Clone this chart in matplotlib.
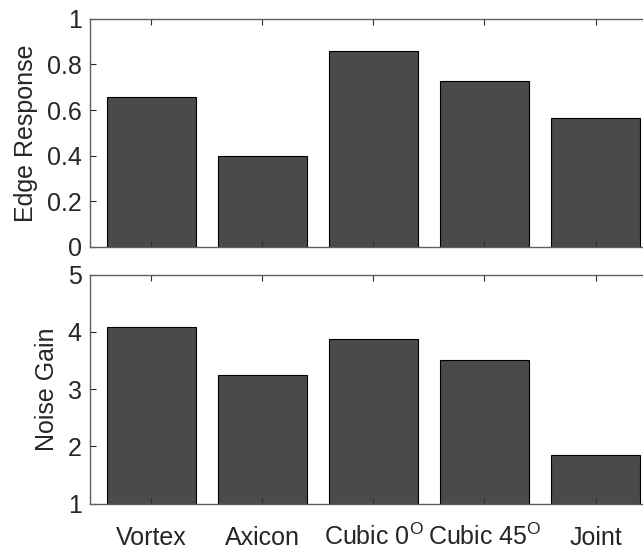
import numpy as np
import matplotlib.pyplot as plt

plt.rcParams['font.family'] = ['Liberation Sans', 'DejaVu Sans']
plt.rcParams['mathtext.fontset'] = 'custom'
plt.rcParams['mathtext.rm'] = 'Liberation Sans'
plt.rcParams['mathtext.it'] = 'Liberation Sans'

# data
methods = ['Vortex', 'Axicon', 'Cubic 0$^\\mathrm{O}$', 'Cubic 45$^\\mathrm{O}$', 'Joint']
edge_response = [0.658, 0.400, 0.858, 0.728, 0.566]
noise_gain = [4.09, 3.25, 3.88, 3.51, 1.85]

bar_color = '#4a4a4a'
text_color = '#262626'
spine_color = '#606060'

fig = plt.figure(figsize=(6.43, 5.5), dpi=100)
ax1 = fig.add_axes([0.14, 0.551, 0.89, 0.415])
ax2 = fig.add_axes([0.14, 0.0842, 0.89, 0.4164])

x = np.arange(1, len(methods) + 1)


def style(ax, ylim, yticks, ylabel):
    ax.set_xlim(0.45, 5.6)
    ax.set_ylim(*ylim)
    ax.set_yticks(yticks)
    ax.set_xticks(x)
    ax.set_ylabel(ylabel, fontsize=18, color=text_color, labelpad=6)
    ax.tick_params(direction='in', length=4, width=0.8, top=True, right=True,
                   labelsize=18, colors=text_color, pad=6)
    ax.tick_params(axis='x', color='#303030')
    for s in ax.spines.values():
        s.set_color(spine_color)
        s.set_linewidth(1.0)


ax1.bar(x, edge_response, width=0.8, color=bar_color, edgecolor='black', linewidth=0.8)
style(ax1, (0, 1), [0, 0.2, 0.4, 0.6, 0.8, 1], 'Edge Response')
ax1.set_yticklabels(['0', '0.2', '0.4', '0.6', '0.8', '1'])
ax1.set_xticklabels([])

# bars start from zero; the axis floor sits at 1
ax2.bar(x, noise_gain, width=0.8, color=bar_color, edgecolor='black', linewidth=0.8)
style(ax2, (1, 5), [1, 2, 3, 4, 5], 'Noise Gain')
# baseline alignment keeps the superscripted labels level with the others
ax2.set_xticklabels(methods, va='baseline')
ax2.tick_params(axis='x', pad=30)

fig.savefig('out.png', dpi=100)
